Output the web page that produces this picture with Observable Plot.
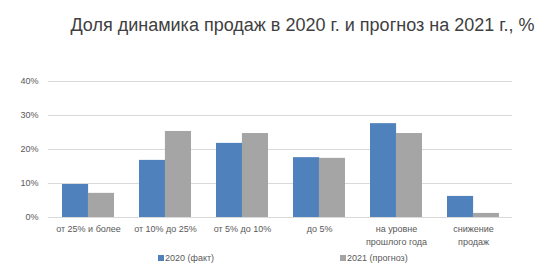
<!DOCTYPE html>
<html>
<head>
<meta charset="utf-8">
<script src="https://cdn.jsdelivr.net/npm/d3@7"></script>
<script src="https://cdn.jsdelivr.net/npm/@observablehq/plot@0.6"></script>
<style>
  html, body { margin: 0; padding: 0; background: #fff; }
  #wrap { position: relative; width: 560px; height: 279px; font-family: "Liberation Sans", Arial, sans-serif; overflow: hidden; }
  #title { position: absolute; left: 0; top: 15px; width: 605px; text-align: center; font-size: 18px; line-height: 20px; color: #404040; white-space: nowrap; }
  #chart { position: absolute; left: 0; top: 60px; }
  .leg { position: absolute; top: 252px; font-size: 9px; line-height: 12px; color: #595959; white-space: nowrap; }
  .sw { display: inline-block; width: 6px; height: 6px; margin-right: 1px; vertical-align: 0px; }
</style>
</head>
<body>
<div id="wrap">
  <div id="title"></div>
  <div id="chart"></div>
  <div id="legend"></div>
</div>
<script>
const title = "Доля динамика продаж в 2020 г. и прогноз на 2021 г., %";
const categories = ["от 25% и более", "от 10% до 25%", "от 5% до 10%", "до 5%", "на уровне прошлого года", "снижение продаж"];
const categoryLabels = ["от 25% и более", "от 10% до 25%", "от 5% до 10%", "до 5%", "на уровне\nпрошлого года", "снижение\nпродаж"];
const seriesNames = ["2020 (факт)", "2021 (прогноз)"];
const fact2020 = [9.7, 16.8, 21.8, 17.6, 27.6, 6.2];
const forecast2021 = [7.1, 25.3, 24.7, 17.4, 24.7, 1.2];
const yTicks = [0, 10, 20, 30, 40];
const colors = ["#4f81bd", "#a5a5a5"];

document.getElementById("title").textContent = title;

const W = 560, mL = 48, mR = 48;
const pIn = 0.33, pOut = 0.165;
const step = (W - mL - mR) / (categories.length - pIn + 2 * pOut);
const half = step * (1 - pIn) / 2;

const chart = Plot.plot({
  width: W,
  height: 190,
  marginTop: 21,
  marginBottom: 33,
  marginLeft: mL,
  marginRight: mR,
  style: { fontFamily: "'Liberation Sans', Arial, sans-serif", fontSize: "9px", color: "#595959", background: "#fff" },
  x: { domain: categories, paddingInner: pIn, paddingOuter: pOut, label: null },
  y: { domain: [0, 40], label: null },
  marks: [
    Plot.gridY(yTicks, { stroke: "#d9d9d9", strokeOpacity: 1 }),
    Plot.axisY(yTicks, { tickSize: 0, tickPadding: 10, tickFormat: d => d + "%", label: null }),
    Plot.barY(categories, { x: d => d, y: (d, i) => fact2020[i], fill: colors[0], insetRight: half }),
    Plot.barY(categories, { x: d => d, y: (d, i) => forecast2021[i], fill: colors[1], insetLeft: half }),
    Plot.ruleY([0], { stroke: "#d9d9d9" }),
    Plot.axisX({ tickSize: 0, tickPadding: 5, tickFormat: (d) => categoryLabels[categories.indexOf(d)], label: null, lineHeight: 1.45 })
  ]
});
document.getElementById("chart").appendChild(chart);

const legend = document.getElementById("legend");
const legLeft = [158, 340];
seriesNames.forEach((name, i) => {
  const el = document.createElement("div");
  el.className = "leg";
  el.style.left = legLeft[i] + "px";
  el.innerHTML = `<span class="sw" style="background:${colors[i]}"></span>`;
  el.appendChild(document.createTextNode(name));
  legend.appendChild(el);
});
</script>
</body>
</html>
